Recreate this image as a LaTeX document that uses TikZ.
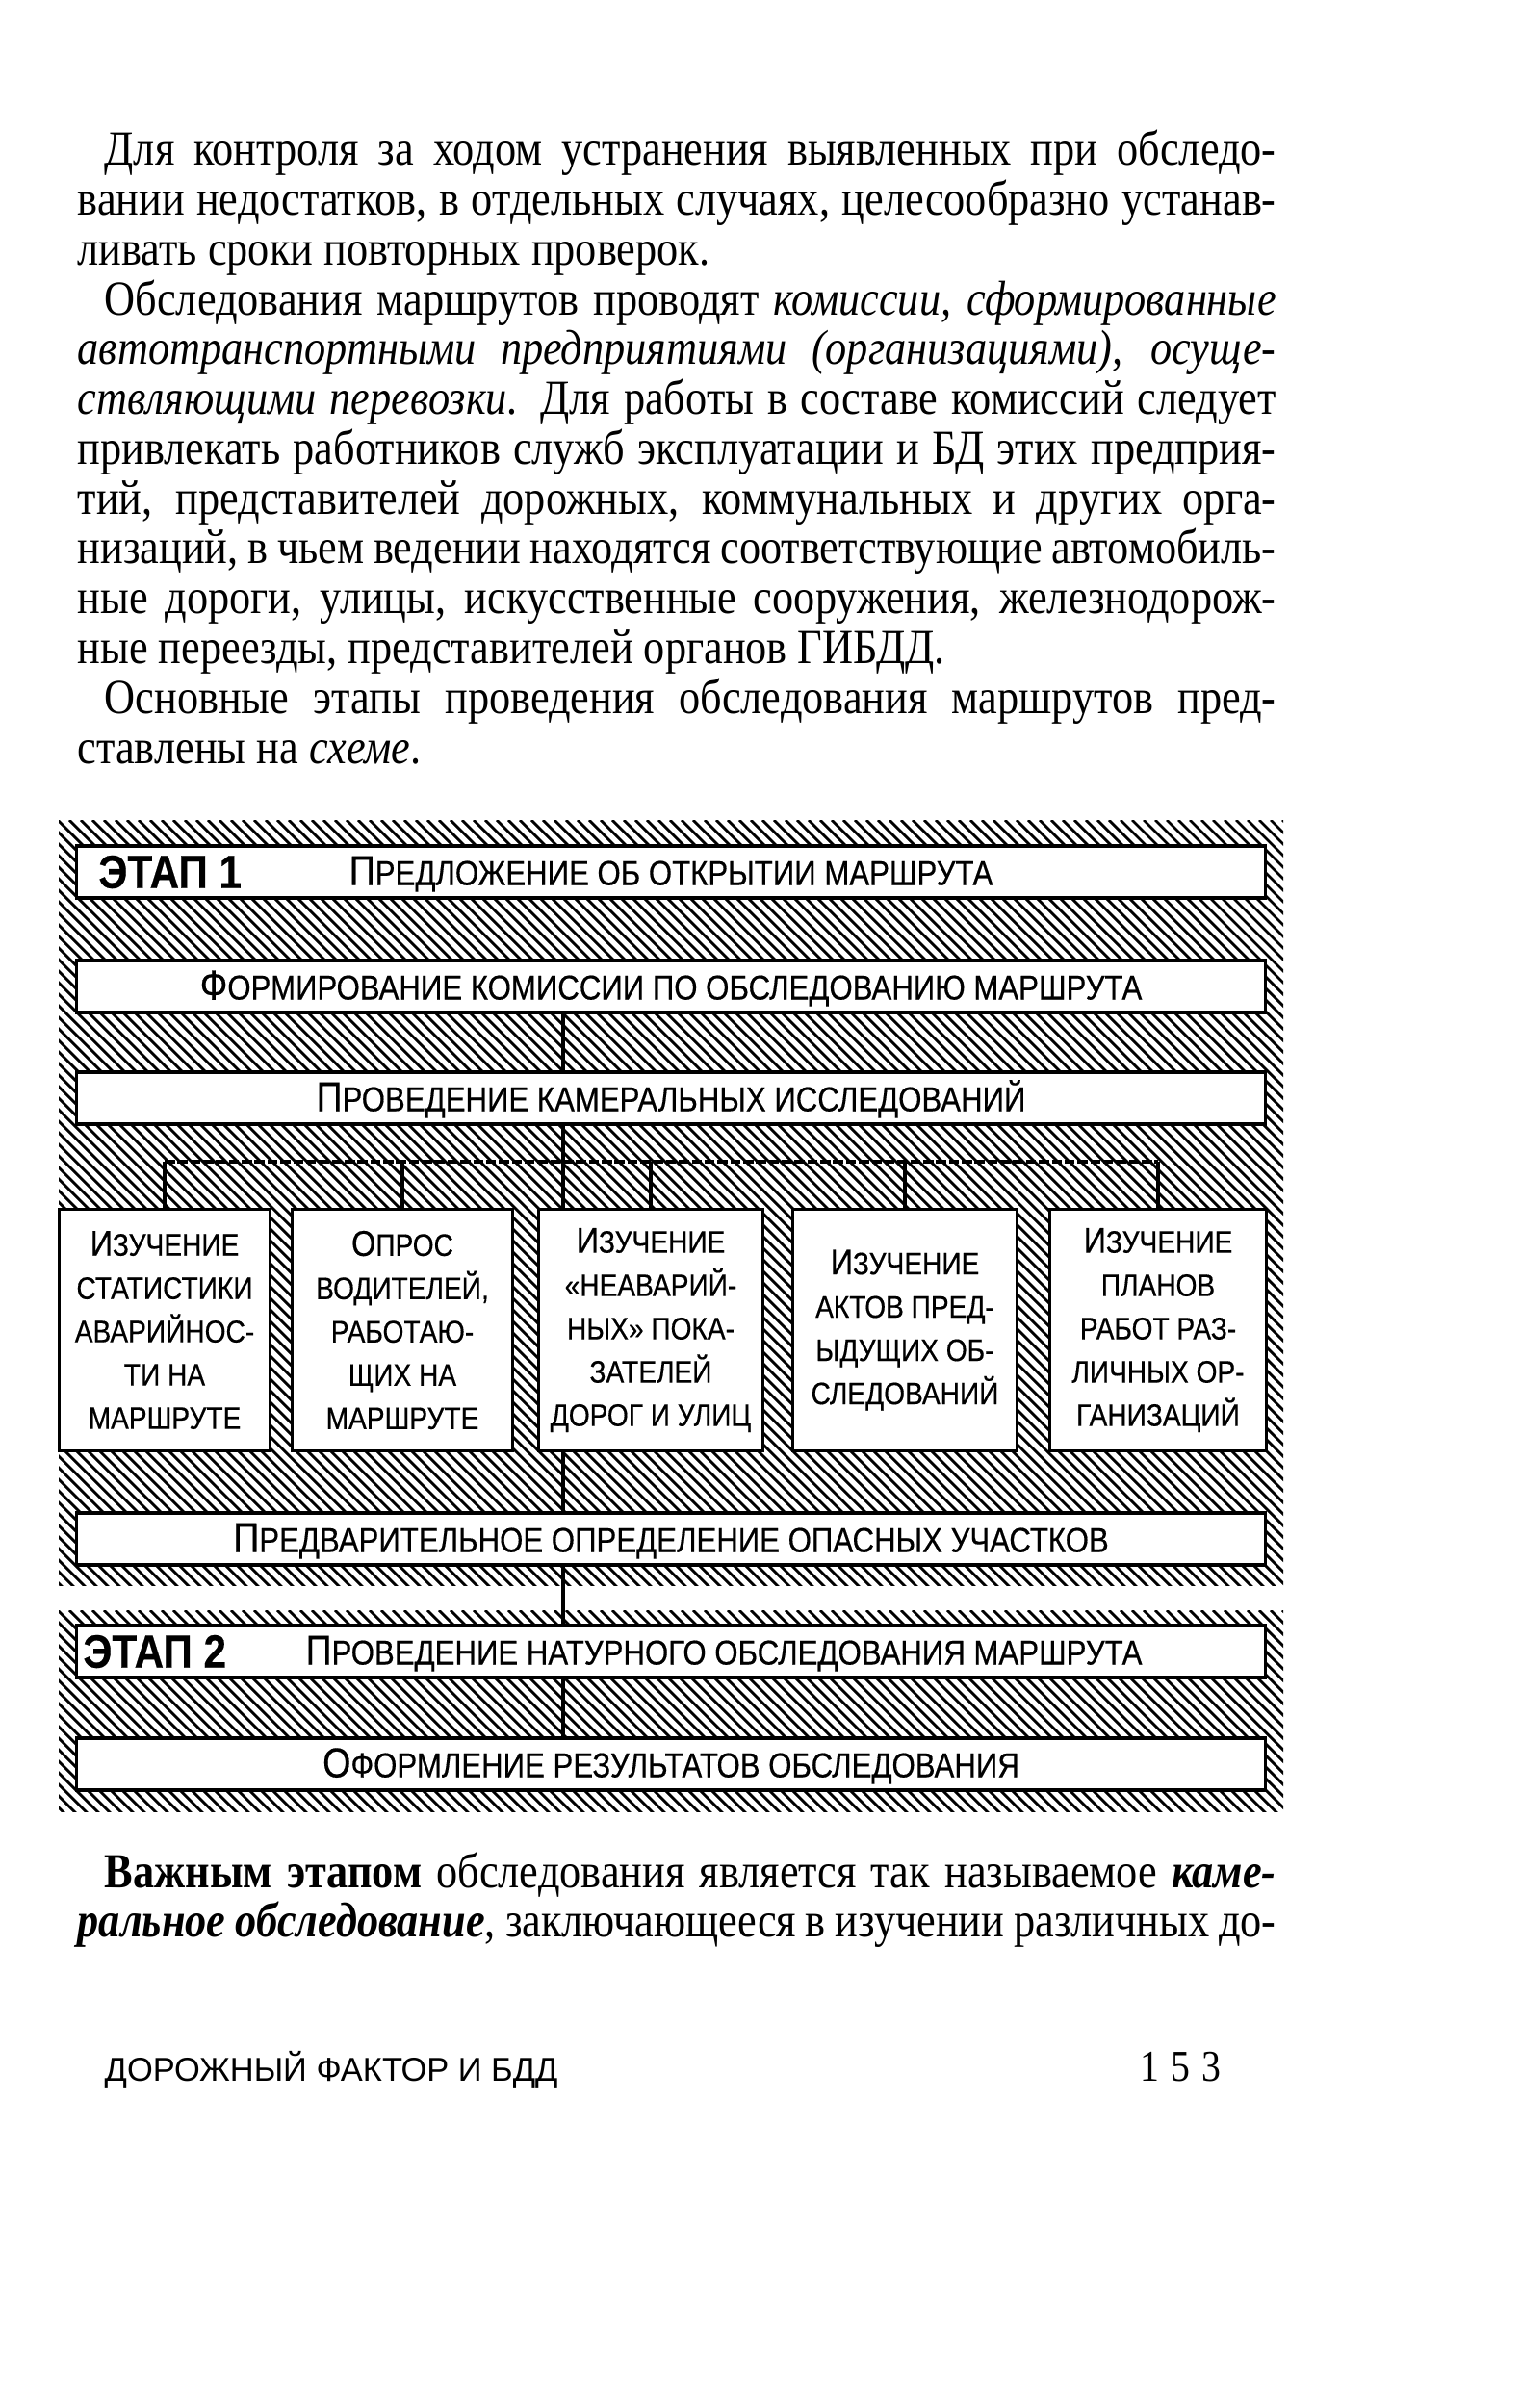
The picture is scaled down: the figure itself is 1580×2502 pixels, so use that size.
\documentclass[tikz,border=0pt]{standalone}
\usepackage{fontspec}
\setmainfont{Liberation Serif}[FakeStretch=0.87]
\newfontfamily\schfont{Liberation Sans}[FakeStretch=0.87, FakeBold=0.4]
\newfontfamily\footfont{Liberation Sans}
\usetikzlibrary{positioning}

% justified lines of the page text
\newcommand{\fullline}[1]{\makebox[124.5mm][s]{#1}}
\newcommand{\indline}[1]{\makebox[121.7mm][s]{#1}}
% larger initial letter of the small caps
\newcommand{\bigini}[1]{{\fontsize{12.3}{12.3}\selectfont #1}}
\newcommand{\ini}[1]{{\fontsize{10.6}{10.6}\selectfont #1}}

\tikzset{
  bodyline/.style={anchor=base west, inner sep=0pt, font=\fontsize{14.5}{14.5}\selectfont},
  hatch/.style={line width=0.8pt},
  widebox/.style={draw, line width=1pt, fill=white, minimum width=123.5mm, minimum height=5.4mm,
    inner sep=0pt, text height=2.7mm, text depth=0pt, font=\schfont\fontsize{10.2}{11}\selectfont},
  studybox/.style={draw, line width=1pt, fill=white, minimum height=25.1mm, inner sep=0pt,
    align=center, font=\schfont\fontsize{9.2}{12.8}\selectfont},
  stagelbl/.style={inner sep=0pt, font=\schfont\bfseries\fontsize{13.8}{13.8}\selectfont},
  link/.style={line width=1.2pt},
  bus/.style={line width=1.1pt, dash pattern=on 3pt off 0.8pt}
}

\begin{document}
\begin{tikzpicture}[x=0.1mm, y=-0.1mm]
    \useasboundingbox (0,0) rectangle (1580,2502);

    % Text above the scheme
    \node[bodyline] (t1) at (108,171) {\indline{Для контроля за ходом устранения выявленных при обследо-}};
    \node[bodyline] (t2) at (80,223) {\fullline{вании недостатков, в отдельных случаях, целесообразно устанав-}};
    \node[bodyline] (t3) at (80,275) {ливать сроки повторных проверок.};
    \node[bodyline] (t4) at (108,327) {\indline{Обследования маршрутов проводят \textit{комиссии, сформированные}}};
    \node[bodyline] (t5) at (80,378) {\fullline{\textit{автотранспортными предприятиями (организациями), осуще-}}};
    \node[bodyline] (t6) at (80,430) {\fullline{\textit{ствляющими перевозки.} Для работы в составе комиссий следует}};
    \node[bodyline] (t7) at (80,482) {\fullline{привлекать работников служб эксплуатации и БД этих предприя-}};
    \node[bodyline] (t8) at (80,534) {\fullline{тий, представителей дорожных, коммунальных и других орга-}};
    \node[bodyline] (t9) at (80,585) {\fullline{низаций, в чьем ведении находятся соответствующие автомобиль-}};
    \node[bodyline] (t10) at (80,637) {\fullline{ные дороги, улицы, искусственные сооружения, железнодорож-}};
    \node[bodyline] (t11) at (80,689) {ные переезды, представителей органов ГИБДД.};
    \node[bodyline] (t12) at (108,741) {\indline{Основные этапы проведения обследования маршрутов пред-}};
    \node[bodyline] (t13) at (80,793) {ставлены на \textit{схеме}.};

    % Hatched background of the first part
    \begin{scope}
        \clip (61,852) rectangle (1333,1647);
        \foreach \i in {-744,-732,...,1333}
            \draw[hatch] (\i,852) -- ++(800,800);
    \end{scope}

    % Hatched background of the second part
    \begin{scope}
        \clip (61,1673) rectangle (1333,1882);
        \foreach \i in {-216,-204,...,1333}
            \draw[hatch] (\i,1673) -- ++(220,220);
    \end{scope}

    % Stage 1 boxes
    \node[widebox] (st1) at (697,906) {\bigini{П}РЕДЛОЖЕНИЕ ОБ ОТКРЫТИИ МАРШРУТА};
    \node[stagelbl, right=2.4mm of st1.west] (et1) {ЭТАП 1};
    \node[widebox] (kom) at (697,1025) {\bigini{Ф}ОРМИРОВАНИЕ КОМИССИИ ПО ОБСЛЕДОВАНИЮ МАРШРУТА};
    \node[widebox] (kam) at (697,1141) {\bigini{П}РОВЕДЕНИЕ КАМЕРАЛЬНЫХ ИССЛЕДОВАНИЙ};

    % The five studies
    \node[studybox, minimum width=21.9mm] (s1) at (171,1382)
        {\ini{И}ЗУЧЕНИЕ\\СТАТИСТИКИ\\АВАРИЙНОС-\\ТИ НА\\МАРШРУТЕ};
    \node[studybox, minimum width=22.9mm] (s2) at (418,1382)
        {\ini{О}ПРОС\\ВОДИТЕЛЕЙ,\\РАБОТАЮ-\\ЩИХ НА\\МАРШРУТЕ};
    \node[studybox, minimum width=23.3mm] (s3) at (676,1382)
        {\ini{И}ЗУЧЕНИЕ\\«НЕАВАРИЙ-\\НЫХ» ПОКА-\\ЗАТЕЛЕЙ\\ДОРОГ И УЛИЦ};
    \node[studybox, minimum width=23.3mm] (s4) at (940,1382)
        {\ini{И}ЗУЧЕНИЕ\\АКТОВ ПРЕД-\\ЫДУЩИХ ОБ-\\СЛЕДОВАНИЙ};
    \node[studybox, minimum width=22.5mm] (s5) at (1203,1382)
        {\ini{И}ЗУЧЕНИЕ\\ПЛАНОВ\\РАБОТ РАЗ-\\ЛИЧНЫХ ОР-\\ГАНИЗАЦИЙ};

    \node[widebox] (opas) at (697,1599) {\bigini{П}РЕДВАРИТЕЛЬНОЕ ОПРЕДЕЛЕНИЕ ОПАСНЫХ УЧАСТКОВ};

    % Stage 2 boxes
    \node[widebox] (st2) at (697,1716) {\hspace*{11mm}\bigini{П}РОВЕДЕНИЕ НАТУРНОГО ОБСЛЕДОВАНИЯ МАРШРУТА};
    \node[stagelbl, right=0.8mm of st2.west] (et2) {ЭТАП 2};
    \node[widebox] (res) at (697,1833) {\bigini{О}ФОРМЛЕНИЕ РЕЗУЛЬТАТОВ ОБСЛЕДОВАНИЯ};

    % Connecting lines
    \coordinate (trunk) at (585,0);
    \coordinate (bus) at (0,1207);
    \draw[link] (kom.south -| trunk) -- (kam.north -| trunk);
    \draw[link] (kam.south -| trunk) -- (s3.north -| trunk);
    \draw[bus] (s1.north |- bus) -- (s5.north |- bus);
    \foreach \b in {s1,s2,s3,s4,s5}
        \draw[link] (\b.north |- bus) -- (\b.north);
    \draw[link] (s3.south -| trunk) -- (opas.north -| trunk);
    \draw[link] (opas.south -| trunk) -- (st2.north -| trunk);
    \draw[link] (st2.south -| trunk) -- (res.north -| trunk);

    % Text below the scheme
    \node[bodyline] (t14) at (108,1961) {\indline{\textbf{Важным этапом} обследования является так называемое \textbf{\textit{каме-}}}};
    \node[bodyline] (t15) at (80,2012) {\fullline{\textbf{\textit{ральное обследование}}, заключающееся в изучении различных до-}};

    % Running foot
    \node[inner sep=0pt, anchor=base west, font=\footfont\fontsize{9.8}{9.8}\selectfont] (foot) at (108,2162) {ДОРОЖНЫЙ ФАКТОР И БДД};
    \node[inner sep=0pt, anchor=base east, font=\fontsize{13}{13}\selectfont] (pnum) at (1269,2162) {1\kern1.2mm5\kern1.2mm3};
\end{tikzpicture}
\end{document}
